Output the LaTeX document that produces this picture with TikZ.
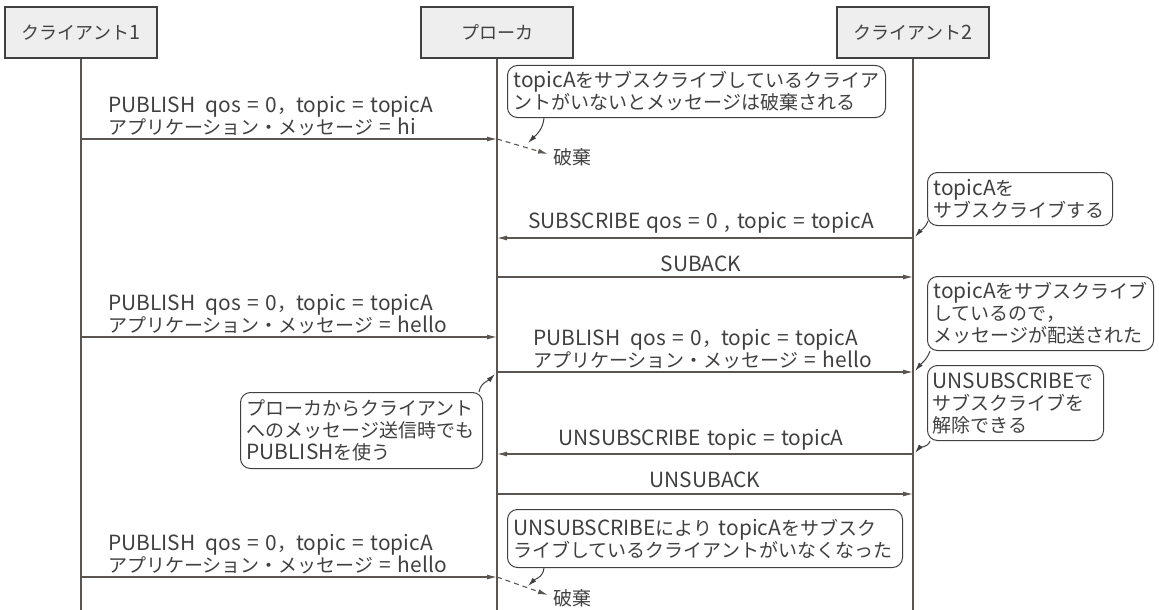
\documentclass[tikz,border=0pt]{standalone}
\usepackage{fontspec}
\setmainfont{Noto Sans CJK JP}
\newfontfamily\latfont{Noto Sans CJK JP}[Scale=1.1]
\newcommand\LT[1]{{\latfont\spaceskip=0.31em\relax #1}}
\usetikzlibrary{arrows.meta}
\definecolor{ink}{HTML}{404040}
\definecolor{lifeink}{HTML}{5A5550}
\definecolor{hdrfill}{HTML}{EEEEEE}
\begin{document}
\begin{tikzpicture}[x=1pt,y=-1pt,
  every node/.style={text=ink, font=\fontsize{19pt}{22pt}\selectfont},
  hdr/.style={draw=ink, line width=1.6pt, fill=hdrfill, minimum width=152pt, minimum height=51pt, inner sep=0pt, font=\fontsize{18pt}{22pt}\selectfont},
  life/.style={draw=lifeink, line width=1.2pt},
  msg/.style={draw=lifeink, line width=1.1pt, -{Latex[length=10pt,width=5pt]}},
  drop/.style={draw=lifeink, line width=1.1pt, dash pattern=on 5pt off 4pt, -{Latex[length=10pt,width=5pt]}},
  note/.style={draw=ink, line width=1pt, rounded corners=10pt, fill=white, align=left, inner xsep=6pt, inner ysep=0pt, anchor=north west},
  pointer/.style={draw=ink, line width=1pt, -{Latex[length=9pt,width=5pt]}},
  lbl/.style={inner sep=0pt, align=left},
]
\useasboundingbox (0,0) rectangle (1159,610);

% headers
\node[hdr] (c1) at (81,32.5) {クライアント\LT{1}};
\node[hdr] (br) at (497,32.5) {プローカ};
\node[hdr] (c2) at (913,32.5) {クライアント\LT{2}};

% lifelines
\coordinate (c1end) at (81,610);
\coordinate (brend) at (497,610);
\coordinate (c2end) at (913,610);
\draw[life] (c1.south) -- (c1end);
\draw[life] (br.south) -- (brend);
\draw[life] (c2.south) -- (c2end);

% message 1
\coordinate (a1) at (81,139);
\coordinate (b1) at (497,139);
\draw[msg] (a1) -- (b1);
\node[lbl, anchor=west] (l1) at (108,116) {\LT{PUBLISH\hspace{0.5em}qos = 0}，\LT{topic = topicA}\\アプリケーション・メッセージ\LT{ = hi}};
\coordinate (d1) at (548,154);
\draw[drop] (b1) -- (d1);
\node[lbl, anchor=west] (x1) at (553,157) {破棄};

% callout 1
\node[note, text width=366pt, minimum height=52pt] (n1) at (507,65) {\LT{topicA}をサブスクライブしているクライア\\ントがいないとメッセージは破棄される};
\coordinate (p1) at (528,143);
\draw[pointer] ([xshift=37pt]n1.south west) to[out=-95,in=45] (p1);

% subscribe
\coordinate (a2) at (913,238);
\coordinate (b2) at (497,238);
\draw[msg] (a2) -- node[lbl, yshift=15pt, xshift=-4pt] (l2) {\LT{SUBSCRIBE qos = 0 , topic = topicA}} (b2);

% callout 2
\node[note, text width=173pt, minimum height=53pt] (n2) at (927,172) {\LT{topicA}を\\サブスクライブする};
\coordinate (p2) at (915,237);
\draw[pointer] ([shift={(1,-5)}]n2.south west) to[out=-110,in=50] (p2);

% suback
\coordinate (b3) at (497,277);
\coordinate (a3) at (913,277);
\draw[msg] (b3) -- node[lbl, yshift=13pt, xshift=-4pt] (l3) {\LT{SUBACK}} (a3);

% message 3
\coordinate (a4) at (81,337);
\coordinate (b4) at (497,337);
\draw[msg] (a4) -- (b4);
\node[lbl, anchor=west] (l4) at (108,314) {\LT{PUBLISH\hspace{0.5em}qos = 0}，\LT{topic = topicA}\\アプリケーション・メッセージ\LT{ = hello}};

% message 4
\coordinate (b5) at (497,372);
\coordinate (c5) at (913,372);
\draw[msg] (b5) -- (c5);
\node[lbl, anchor=west] (l5) at (533,349) {\LT{PUBLISH\hspace{0.5em}qos = 0}，\LT{topic = topicA}\\アプリケーション・メッセージ\LT{ = hello}};

% callout 3
\node[note, text width=214pt, minimum height=74pt] (n3) at (927,276) {\LT{topicA}をサブスクライブ\\しているので，\\メッセージが配送された};
\coordinate (p3) at (915,371);
\draw[pointer] ([xshift=3pt]n3.south west) to[out=-110,in=50] (p3);

% callout 4
\node[note, text width=166pt, inner xsep=5pt, minimum height=75pt] (n4) at (927,365) {\LT{UNSUBSCRIBE}で\\サブスクライブを\\解除できる};
\coordinate (p4) at (915,453);
\draw[pointer] ([xshift=3pt]n4.south west) to[out=-110,in=50] (p4);

% callout 5
\node[note, text width=230pt, minimum height=76pt] (n5) at (240,392) {プローカからクライアント\\へのメッセージ送信時でも\\\LT{PUBLISH}を使う};
\coordinate (p5) at (495,374);
\draw[pointer] ([xshift=-4pt]n5.north east) to[out=80,in=225] (p5);

% unsubscribe
\coordinate (a6) at (913,454);
\coordinate (b6) at (497,454);
\draw[msg] (a6) -- node[lbl, yshift=14pt, xshift=-4pt] (l6) {\LT{UNSUBSCRIBE topic = topicA}} (b6);

% unsuback
\coordinate (b7) at (497,494);
\coordinate (a7) at (913,494);
\draw[msg] (b7) -- node[lbl, yshift=14pt] (l7) {\LT{UNSUBACK}} (a7);

% callout 6
\node[note, text width=383pt, minimum height=58pt] (n6) at (507,509) {\LT{UNSUBSCRIBE}により \LT{topicA}をサブスク\\ライブしているクライアントがいなくなった};
\coordinate (p6) at (528,586);
\draw[pointer] ([xshift=37pt]n6.south west) to[out=-95,in=45] (p6);

% message 5
\coordinate (a8) at (81,577);
\coordinate (b8) at (497,577);
\draw[msg] (a8) -- (b8);
\node[lbl, anchor=west] (l8) at (108,554) {\LT{PUBLISH\hspace{0.5em}qos = 0}，\LT{topic = topicA}\\アプリケーション・メッセージ\LT{ = hello}};
\coordinate (d8) at (548,595);
\draw[drop] (b8) -- (d8);
\node[lbl, anchor=west] (x8) at (553,598) {破棄};
\end{tikzpicture}
\end{document}
